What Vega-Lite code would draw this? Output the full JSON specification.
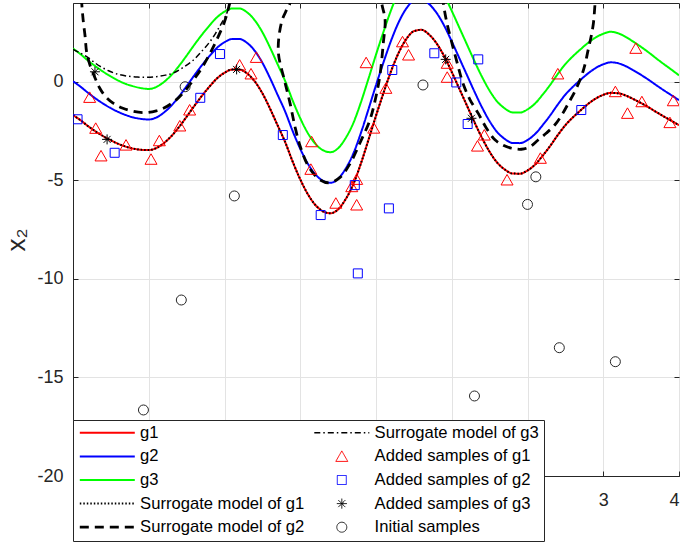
{
"$schema":"https://vega.github.io/schema/vega-lite/v6.json",
"width":606,"height":473,"autosize":"none",
"padding":{"left":73,"top":3,"right":6,"bottom":67},
"background":"white",
"config":{"view":{"stroke":"#262626","strokeWidth":1},"font":"Liberation Sans",
"axis":{"labelFont":"Liberation Sans","labelFontSize":18,"labelColor":"#262626","tickColor":"#262626","domainColor":"#262626","gridColor":"#e3e3e3","gridWidth":1,"tickSize":-5,"domainWidth":1,"tickWidth":1}},
"datasets":{
"curves":[
{"series":"g1","x":-4,"y":-1.69},{"series":"g1","x":-3.9,"y":-1.95},{"series":"g1","x":-3.8,"y":-2.25},{"series":"g1","x":-3.7,"y":-2.52},{"series":"g1","x":-3.6,"y":-2.76},{"series":"g1","x":-3.5,"y":-2.97},{"series":"g1","x":-3.4,"y":-3.15},{"series":"g1","x":-3.3,"y":-3.29},{"series":"g1","x":-3.2,"y":-3.39},{"series":"g1","x":-3.1,"y":-3.45},{"series":"g1","x":-3,"y":-3.46},{"series":"g1","x":-2.9,"y":-3.36},{"series":"g1","x":-2.8,"y":-3.11},{"series":"g1","x":-2.7,"y":-2.75},{"series":"g1","x":-2.6,"y":-2.29},{"series":"g1","x":-2.5,"y":-1.77},{"series":"g1","x":-2.4,"y":-1.23},{"series":"g1","x":-2.3,"y":-0.72},{"series":"g1","x":-2.2,"y":-0.25},{"series":"g1","x":-2.1,"y":0.17},{"series":"g1","x":-2,"y":0.46},{"series":"g1","x":-1.9,"y":0.62},{"series":"g1","x":-1.8,"y":0.62},{"series":"g1","x":-1.7,"y":0.42},{"series":"g1","x":-1.6,"y":0.02},{"series":"g1","x":-1.5,"y":-0.58},{"series":"g1","x":-1.4,"y":-1.35},{"series":"g1","x":-1.3,"y":-2.2},{"series":"g1","x":-1.2,"y":-3.05},{"series":"g1","x":-1.1,"y":-4.05},{"series":"g1","x":-1,"y":-4.95},{"series":"g1","x":-0.9,"y":-5.7},{"series":"g1","x":-0.8,"y":-6.25},{"series":"g1","x":-0.7,"y":-6.57},{"series":"g1","x":-0.6,"y":-6.67},{"series":"g1","x":-0.5,"y":-6.47},{"series":"g1","x":-0.4,"y":-5.95},{"series":"g1","x":-0.3,"y":-5.2},{"series":"g1","x":-0.2,"y":-4.15},{"series":"g1","x":-0.1,"y":-2.95},{"series":"g1","x":0,"y":-1.72},{"series":"g1","x":0.1,"y":-0.55},{"series":"g1","x":0.2,"y":0.55},{"series":"g1","x":0.3,"y":1.48},{"series":"g1","x":0.4,"y":2.17},{"series":"g1","x":0.5,"y":2.57},{"series":"g1","x":0.6,"y":2.64},{"series":"g1","x":0.7,"y":2.4},{"series":"g1","x":0.8,"y":1.95},{"series":"g1","x":0.9,"y":1.3},{"series":"g1","x":1,"y":0.5},{"series":"g1","x":1.1,"y":-0.35},{"series":"g1","x":1.2,"y":-1.2},{"series":"g1","x":1.3,"y":-2.05},{"series":"g1","x":1.4,"y":-2.85},{"series":"g1","x":1.5,"y":-3.55},{"series":"g1","x":1.6,"y":-4.1},{"series":"g1","x":1.7,"y":-4.45},{"series":"g1","x":1.8,"y":-4.65},{"series":"g1","x":1.9,"y":-4.66},{"series":"g1","x":2,"y":-4.5},{"series":"g1","x":2.1,"y":-4.2},{"series":"g1","x":2.2,"y":-3.75},{"series":"g1","x":2.3,"y":-3.25},{"series":"g1","x":2.4,"y":-2.7},{"series":"g1","x":2.5,"y":-2.2},{"series":"g1","x":2.6,"y":-1.8},{"series":"g1","x":2.7,"y":-1.45},{"series":"g1","x":2.8,"y":-1.12},{"series":"g1","x":2.9,"y":-0.85},{"series":"g1","x":3,"y":-0.66},{"series":"g1","x":3.1,"y":-0.56},{"series":"g1","x":3.2,"y":-0.58},{"series":"g1","x":3.3,"y":-0.7},{"series":"g1","x":3.4,"y":-0.88},{"series":"g1","x":3.5,"y":-1.08},{"series":"g1","x":3.6,"y":-1.3},{"series":"g1","x":3.7,"y":-1.53},{"series":"g1","x":3.8,"y":-1.76},{"series":"g1","x":3.9,"y":-1.98},{"series":"g1","x":4,"y":-2.2},
{"series":"g2","x":-4,"y":0.03},{"series":"g2","x":-3.9,"y":-0.25},{"series":"g2","x":-3.8,"y":-0.56},{"series":"g2","x":-3.7,"y":-0.85},{"series":"g2","x":-3.6,"y":-1.11},{"series":"g2","x":-3.5,"y":-1.34},{"series":"g2","x":-3.4,"y":-1.53},{"series":"g2","x":-3.3,"y":-1.69},{"series":"g2","x":-3.2,"y":-1.81},{"series":"g2","x":-3.1,"y":-1.88},{"series":"g2","x":-3,"y":-1.91},{"series":"g2","x":-2.9,"y":-1.81},{"series":"g2","x":-2.8,"y":-1.56},{"series":"g2","x":-2.7,"y":-1.2},{"series":"g2","x":-2.6,"y":-0.74},{"series":"g2","x":-2.5,"y":-0.22},{"series":"g2","x":-2.4,"y":0.32},{"series":"g2","x":-2.3,"y":0.83},{"series":"g2","x":-2.2,"y":1.3},{"series":"g2","x":-2.1,"y":1.72},{"series":"g2","x":-2,"y":2.01},{"series":"g2","x":-1.9,"y":2.17},{"series":"g2","x":-1.8,"y":2.17},{"series":"g2","x":-1.7,"y":1.97},{"series":"g2","x":-1.6,"y":1.57},{"series":"g2","x":-1.5,"y":0.97},{"series":"g2","x":-1.4,"y":0.2},{"series":"g2","x":-1.3,"y":-0.65},{"series":"g2","x":-1.2,"y":-1.5},{"series":"g2","x":-1.1,"y":-2.5},{"series":"g2","x":-1,"y":-3.4},{"series":"g2","x":-0.9,"y":-4.15},{"series":"g2","x":-0.8,"y":-4.7},{"series":"g2","x":-0.7,"y":-5.02},{"series":"g2","x":-0.6,"y":-5.12},{"series":"g2","x":-0.5,"y":-4.92},{"series":"g2","x":-0.4,"y":-4.4},{"series":"g2","x":-0.3,"y":-3.65},{"series":"g2","x":-0.2,"y":-2.6},{"series":"g2","x":-0.1,"y":-1.4},{"series":"g2","x":0,"y":-0.17},{"series":"g2","x":0.1,"y":1},{"series":"g2","x":0.2,"y":2.1},{"series":"g2","x":0.3,"y":3.03},{"series":"g2","x":0.4,"y":3.72},{"series":"g2","x":0.5,"y":4.12},{"series":"g2","x":0.6,"y":4.19},{"series":"g2","x":0.7,"y":3.95},{"series":"g2","x":0.8,"y":3.5},{"series":"g2","x":0.9,"y":2.85},{"series":"g2","x":1,"y":2.05},{"series":"g2","x":1.1,"y":1.2},{"series":"g2","x":1.2,"y":0.35},{"series":"g2","x":1.3,"y":-0.5},{"series":"g2","x":1.4,"y":-1.3},{"series":"g2","x":1.5,"y":-2},{"series":"g2","x":1.6,"y":-2.55},{"series":"g2","x":1.7,"y":-2.9},{"series":"g2","x":1.8,"y":-3.1},{"series":"g2","x":1.9,"y":-3.11},{"series":"g2","x":2,"y":-2.95},{"series":"g2","x":2.1,"y":-2.65},{"series":"g2","x":2.2,"y":-2.2},{"series":"g2","x":2.3,"y":-1.7},{"series":"g2","x":2.4,"y":-1.15},{"series":"g2","x":2.5,"y":-0.65},{"series":"g2","x":2.6,"y":-0.25},{"series":"g2","x":2.7,"y":0.1},{"series":"g2","x":2.8,"y":0.43},{"series":"g2","x":2.9,"y":0.7},{"series":"g2","x":3,"y":0.89},{"series":"g2","x":3.1,"y":0.99},{"series":"g2","x":3.2,"y":0.94},{"series":"g2","x":3.3,"y":0.79},{"series":"g2","x":3.4,"y":0.58},{"series":"g2","x":3.5,"y":0.35},{"series":"g2","x":3.6,"y":0.1},{"series":"g2","x":3.7,"y":-0.17},{"series":"g2","x":3.8,"y":-0.43},{"series":"g2","x":3.9,"y":-0.68},{"series":"g2","x":4,"y":-0.93},
{"series":"g3","x":-4,"y":1.69},{"series":"g3","x":-3.9,"y":1.4},{"series":"g3","x":-3.8,"y":1.07},{"series":"g3","x":-3.7,"y":0.78},{"series":"g3","x":-3.6,"y":0.51},{"series":"g3","x":-3.5,"y":0.27},{"series":"g3","x":-3.4,"y":0.06},{"series":"g3","x":-3.3,"y":-0.11},{"series":"g3","x":-3.2,"y":-0.23},{"series":"g3","x":-3.1,"y":-0.32},{"series":"g3","x":-3,"y":-0.36},{"series":"g3","x":-2.9,"y":-0.26},{"series":"g3","x":-2.8,"y":-0.01},{"series":"g3","x":-2.7,"y":0.35},{"series":"g3","x":-2.6,"y":0.81},{"series":"g3","x":-2.5,"y":1.33},{"series":"g3","x":-2.4,"y":1.87},{"series":"g3","x":-2.3,"y":2.38},{"series":"g3","x":-2.2,"y":2.85},{"series":"g3","x":-2.1,"y":3.27},{"series":"g3","x":-2,"y":3.56},{"series":"g3","x":-1.9,"y":3.72},{"series":"g3","x":-1.8,"y":3.72},{"series":"g3","x":-1.7,"y":3.52},{"series":"g3","x":-1.6,"y":3.12},{"series":"g3","x":-1.5,"y":2.52},{"series":"g3","x":-1.4,"y":1.75},{"series":"g3","x":-1.3,"y":0.9},{"series":"g3","x":-1.2,"y":0.05},{"series":"g3","x":-1.1,"y":-0.95},{"series":"g3","x":-1,"y":-1.85},{"series":"g3","x":-0.9,"y":-2.6},{"series":"g3","x":-0.8,"y":-3.15},{"series":"g3","x":-0.7,"y":-3.47},{"series":"g3","x":-0.6,"y":-3.57},{"series":"g3","x":-0.5,"y":-3.37},{"series":"g3","x":-0.4,"y":-2.85},{"series":"g3","x":-0.3,"y":-2.1},{"series":"g3","x":-0.2,"y":-1.05},{"series":"g3","x":-0.1,"y":0.15},{"series":"g3","x":0,"y":1.38},{"series":"g3","x":0.1,"y":2.55},{"series":"g3","x":0.2,"y":3.65},{"series":"g3","x":0.3,"y":4.58},{"series":"g3","x":0.4,"y":5.27},{"series":"g3","x":0.5,"y":5.67},{"series":"g3","x":0.6,"y":5.74},{"series":"g3","x":0.7,"y":5.5},{"series":"g3","x":0.8,"y":5.05},{"series":"g3","x":0.9,"y":4.4},{"series":"g3","x":1,"y":3.6},{"series":"g3","x":1.1,"y":2.75},{"series":"g3","x":1.2,"y":1.9},{"series":"g3","x":1.3,"y":1.05},{"series":"g3","x":1.4,"y":0.25},{"series":"g3","x":1.5,"y":-0.45},{"series":"g3","x":1.6,"y":-1},{"series":"g3","x":1.7,"y":-1.35},{"series":"g3","x":1.8,"y":-1.55},{"series":"g3","x":1.9,"y":-1.56},{"series":"g3","x":2,"y":-1.4},{"series":"g3","x":2.1,"y":-1.1},{"series":"g3","x":2.2,"y":-0.65},{"series":"g3","x":2.3,"y":-0.15},{"series":"g3","x":2.4,"y":0.4},{"series":"g3","x":2.5,"y":0.9},{"series":"g3","x":2.6,"y":1.3},{"series":"g3","x":2.7,"y":1.65},{"series":"g3","x":2.8,"y":1.98},{"series":"g3","x":2.9,"y":2.25},{"series":"g3","x":3,"y":2.44},{"series":"g3","x":3.1,"y":2.54},{"series":"g3","x":3.2,"y":2.46},{"series":"g3","x":3.3,"y":2.27},{"series":"g3","x":3.4,"y":2.03},{"series":"g3","x":3.5,"y":1.77},{"series":"g3","x":3.6,"y":1.49},{"series":"g3","x":3.7,"y":1.19},{"series":"g3","x":3.8,"y":0.9},{"series":"g3","x":3.9,"y":0.62},{"series":"g3","x":4,"y":0.33}],
"sur1":[
{"series":"Surrogate model of g1","x":-4,"y":-1.69},{"series":"Surrogate model of g1","x":-3.9,"y":-1.95},{"series":"Surrogate model of g1","x":-3.8,"y":-2.25},{"series":"Surrogate model of g1","x":-3.7,"y":-2.52},{"series":"Surrogate model of g1","x":-3.6,"y":-2.76},{"series":"Surrogate model of g1","x":-3.5,"y":-2.97},{"series":"Surrogate model of g1","x":-3.4,"y":-3.15},{"series":"Surrogate model of g1","x":-3.3,"y":-3.29},{"series":"Surrogate model of g1","x":-3.2,"y":-3.39},{"series":"Surrogate model of g1","x":-3.1,"y":-3.45},{"series":"Surrogate model of g1","x":-3,"y":-3.46},{"series":"Surrogate model of g1","x":-2.9,"y":-3.36},{"series":"Surrogate model of g1","x":-2.8,"y":-3.11},{"series":"Surrogate model of g1","x":-2.7,"y":-2.75},{"series":"Surrogate model of g1","x":-2.6,"y":-2.29},{"series":"Surrogate model of g1","x":-2.5,"y":-1.77},{"series":"Surrogate model of g1","x":-2.4,"y":-1.23},{"series":"Surrogate model of g1","x":-2.3,"y":-0.72},{"series":"Surrogate model of g1","x":-2.2,"y":-0.25},{"series":"Surrogate model of g1","x":-2.1,"y":0.17},{"series":"Surrogate model of g1","x":-2,"y":0.46},{"series":"Surrogate model of g1","x":-1.9,"y":0.62},{"series":"Surrogate model of g1","x":-1.8,"y":0.62},{"series":"Surrogate model of g1","x":-1.7,"y":0.42},{"series":"Surrogate model of g1","x":-1.6,"y":0.02},{"series":"Surrogate model of g1","x":-1.5,"y":-0.58},{"series":"Surrogate model of g1","x":-1.4,"y":-1.35},{"series":"Surrogate model of g1","x":-1.3,"y":-2.2},{"series":"Surrogate model of g1","x":-1.2,"y":-3.05},{"series":"Surrogate model of g1","x":-1.1,"y":-4.05},{"series":"Surrogate model of g1","x":-1,"y":-4.95},{"series":"Surrogate model of g1","x":-0.9,"y":-5.7},{"series":"Surrogate model of g1","x":-0.8,"y":-6.25},{"series":"Surrogate model of g1","x":-0.7,"y":-6.57},{"series":"Surrogate model of g1","x":-0.6,"y":-6.67},{"series":"Surrogate model of g1","x":-0.5,"y":-6.47},{"series":"Surrogate model of g1","x":-0.4,"y":-5.95},{"series":"Surrogate model of g1","x":-0.3,"y":-5.2},{"series":"Surrogate model of g1","x":-0.2,"y":-4.15},{"series":"Surrogate model of g1","x":-0.1,"y":-2.95},{"series":"Surrogate model of g1","x":0,"y":-1.72},{"series":"Surrogate model of g1","x":0.1,"y":-0.55},{"series":"Surrogate model of g1","x":0.2,"y":0.55},{"series":"Surrogate model of g1","x":0.3,"y":1.48},{"series":"Surrogate model of g1","x":0.4,"y":2.17},{"series":"Surrogate model of g1","x":0.5,"y":2.57},{"series":"Surrogate model of g1","x":0.6,"y":2.64},{"series":"Surrogate model of g1","x":0.7,"y":2.4},{"series":"Surrogate model of g1","x":0.8,"y":1.95},{"series":"Surrogate model of g1","x":0.9,"y":1.3},{"series":"Surrogate model of g1","x":1,"y":0.5},{"series":"Surrogate model of g1","x":1.1,"y":-0.35},{"series":"Surrogate model of g1","x":1.2,"y":-1.2},{"series":"Surrogate model of g1","x":1.3,"y":-2.05},{"series":"Surrogate model of g1","x":1.4,"y":-2.85},{"series":"Surrogate model of g1","x":1.5,"y":-3.55},{"series":"Surrogate model of g1","x":1.6,"y":-4.1},{"series":"Surrogate model of g1","x":1.7,"y":-4.45},{"series":"Surrogate model of g1","x":1.8,"y":-4.65},{"series":"Surrogate model of g1","x":1.9,"y":-4.66},{"series":"Surrogate model of g1","x":2,"y":-4.5},{"series":"Surrogate model of g1","x":2.1,"y":-4.2},{"series":"Surrogate model of g1","x":2.2,"y":-3.75},{"series":"Surrogate model of g1","x":2.3,"y":-3.25},{"series":"Surrogate model of g1","x":2.4,"y":-2.7},{"series":"Surrogate model of g1","x":2.5,"y":-2.2},{"series":"Surrogate model of g1","x":2.6,"y":-1.8},{"series":"Surrogate model of g1","x":2.7,"y":-1.45},{"series":"Surrogate model of g1","x":2.8,"y":-1.12},{"series":"Surrogate model of g1","x":2.9,"y":-0.85},{"series":"Surrogate model of g1","x":3,"y":-0.66},{"series":"Surrogate model of g1","x":3.1,"y":-0.56},{"series":"Surrogate model of g1","x":3.2,"y":-0.58},{"series":"Surrogate model of g1","x":3.3,"y":-0.7},{"series":"Surrogate model of g1","x":3.4,"y":-0.88},{"series":"Surrogate model of g1","x":3.5,"y":-1.08},{"series":"Surrogate model of g1","x":3.6,"y":-1.3},{"series":"Surrogate model of g1","x":3.7,"y":-1.53},{"series":"Surrogate model of g1","x":3.8,"y":-1.76},{"series":"Surrogate model of g1","x":3.9,"y":-1.98},{"series":"Surrogate model of g1","x":4,"y":-2.2}],
"sur2":[
{"series":"Surrogate model of g2","i":1,"x":-3.9,"y":5},{"series":"Surrogate model of g2","i":2,"x":-3.885,"y":4},{"series":"Surrogate model of g2","i":3,"x":-3.865,"y":3.1},{"series":"Surrogate model of g2","i":4,"x":-3.84,"y":2.3},{"series":"Surrogate model of g2","i":5,"x":-3.82,"y":1.5},{"series":"Surrogate model of g2","i":6,"x":-3.78,"y":0.9},{"series":"Surrogate model of g2","i":7,"x":-3.72,"y":0.3},{"series":"Surrogate model of g2","i":8,"x":-3.65,"y":-0.3},{"series":"Surrogate model of g2","i":9,"x":-3.57,"y":-0.75},{"series":"Surrogate model of g2","i":10,"x":-3.47,"y":-1.08},{"series":"Surrogate model of g2","i":11,"x":-3.35,"y":-1.33},{"series":"Surrogate model of g2","i":12,"x":-3.2,"y":-1.5},{"series":"Surrogate model of g2","i":13,"x":-3.05,"y":-1.56},{"series":"Surrogate model of g2","i":14,"x":-2.9,"y":-1.47},{"series":"Surrogate model of g2","i":15,"x":-2.8,"y":-1.33},{"series":"Surrogate model of g2","i":16,"x":-2.7,"y":-1.1},{"series":"Surrogate model of g2","i":17,"x":-2.6,"y":-0.78},{"series":"Surrogate model of g2","i":18,"x":-2.5,"y":-0.35},{"series":"Surrogate model of g2","i":19,"x":-2.4,"y":0.15},{"series":"Surrogate model of g2","i":20,"x":-2.3,"y":0.7},{"series":"Surrogate model of g2","i":21,"x":-2.2,"y":1.38},{"series":"Surrogate model of g2","i":22,"x":-2.1,"y":2.15},{"series":"Surrogate model of g2","i":23,"x":-2,"y":3.05},{"series":"Surrogate model of g2","i":24,"x":-1.95,"y":3.7},{"series":"Surrogate model of g2","i":25,"x":-1.91,"y":4.4},{"series":"Surrogate model of g2","i":26,"x":-1.85,"y":6},{"series":"Surrogate model of g2","i":27,"x":-1.5,"y":8},{"series":"Surrogate model of g2","i":28,"x":-1.11,"y":6},{"series":"Surrogate model of g2","i":29,"x":-1.135,"y":4},{"series":"Surrogate model of g2","i":30,"x":-1.18,"y":3.65},{"series":"Surrogate model of g2","i":31,"x":-1.245,"y":3.06},{"series":"Surrogate model of g2","i":32,"x":-1.29,"y":1.54},{"series":"Surrogate model of g2","i":33,"x":-1.21,"y":0.1},{"series":"Surrogate model of g2","i":34,"x":-1.135,"y":-1.08},{"series":"Surrogate model of g2","i":35,"x":-1.07,"y":-2.27},{"series":"Surrogate model of g2","i":36,"x":-1,"y":-3.28},{"series":"Surrogate model of g2","i":37,"x":-0.89,"y":-4.3},{"series":"Surrogate model of g2","i":38,"x":-0.74,"y":-4.97},{"series":"Surrogate model of g2","i":39,"x":-0.61,"y":-5.12},{"series":"Surrogate model of g2","i":40,"x":-0.475,"y":-4.85},{"series":"Surrogate model of g2","i":41,"x":-0.35,"y":-4.2},{"series":"Surrogate model of g2","i":42,"x":-0.2,"y":-3},{"series":"Surrogate model of g2","i":43,"x":-0.08,"y":-1.93},{"series":"Surrogate model of g2","i":44,"x":-0.01,"y":-0.91},{"series":"Surrogate model of g2","i":45,"x":0.05,"y":0.27},{"series":"Surrogate model of g2","i":46,"x":0.096,"y":1.96},{"series":"Surrogate model of g2","i":47,"x":0.12,"y":3.14},{"series":"Surrogate model of g2","i":48,"x":0.075,"y":4},{"series":"Surrogate model of g2","i":49,"x":0.05,"y":5},{"series":"Surrogate model of g2","i":50,"x":0.5,"y":8},{"series":"Surrogate model of g2","i":51,"x":0.87,"y":5},{"series":"Surrogate model of g2","i":52,"x":0.89,"y":4},{"series":"Surrogate model of g2","i":53,"x":0.93,"y":3.1},{"series":"Surrogate model of g2","i":54,"x":1,"y":2},{"series":"Surrogate model of g2","i":55,"x":1.09,"y":0.7},{"series":"Surrogate model of g2","i":56,"x":1.15,"y":-0.1},{"series":"Surrogate model of g2","i":57,"x":1.24,"y":-0.9},{"series":"Surrogate model of g2","i":58,"x":1.35,"y":-1.6},{"series":"Surrogate model of g2","i":59,"x":1.45,"y":-2.3},{"series":"Surrogate model of g2","i":60,"x":1.57,"y":-2.94},{"series":"Surrogate model of g2","i":61,"x":1.68,"y":-3.22},{"series":"Surrogate model of g2","i":62,"x":1.79,"y":-3.37},{"series":"Surrogate model of g2","i":63,"x":1.92,"y":-3.42},{"series":"Surrogate model of g2","i":64,"x":2.03,"y":-3.3},{"series":"Surrogate model of g2","i":65,"x":2.14,"y":-2.95},{"series":"Surrogate model of g2","i":66,"x":2.25,"y":-2.6},{"series":"Surrogate model of g2","i":67,"x":2.36,"y":-2.19},{"series":"Surrogate model of g2","i":68,"x":2.45,"y":-1.7},{"series":"Surrogate model of g2","i":69,"x":2.54,"y":-1.09},{"series":"Surrogate model of g2","i":70,"x":2.63,"y":-0.45},{"series":"Surrogate model of g2","i":71,"x":2.71,"y":0.26},{"series":"Surrogate model of g2","i":72,"x":2.76,"y":0.9},{"series":"Surrogate model of g2","i":73,"x":2.8,"y":1.61},{"series":"Surrogate model of g2","i":74,"x":2.84,"y":2.3},{"series":"Surrogate model of g2","i":75,"x":2.87,"y":2.97},{"series":"Surrogate model of g2","i":76,"x":2.89,"y":3.9},{"series":"Surrogate model of g2","i":77,"x":2.92,"y":5.5}],
"sur3":[
{"series":"Surrogate model of g3","i":1,"x":-4,"y":1.65},{"series":"Surrogate model of g3","i":2,"x":-3.9,"y":1.45},{"series":"Surrogate model of g3","i":3,"x":-3.82,"y":1.28},{"series":"Surrogate model of g3","i":4,"x":-3.73,"y":1.02},{"series":"Surrogate model of g3","i":5,"x":-3.64,"y":0.78},{"series":"Surrogate model of g3","i":6,"x":-3.53,"y":0.56},{"series":"Surrogate model of g3","i":7,"x":-3.42,"y":0.4},{"series":"Surrogate model of g3","i":8,"x":-3.3,"y":0.3},{"series":"Surrogate model of g3","i":9,"x":-3.15,"y":0.24},{"series":"Surrogate model of g3","i":10,"x":-3.03,"y":0.23},{"series":"Surrogate model of g3","i":11,"x":-2.9,"y":0.26},{"series":"Surrogate model of g3","i":12,"x":-2.78,"y":0.34},{"series":"Surrogate model of g3","i":13,"x":-2.68,"y":0.44},{"series":"Surrogate model of g3","i":14,"x":-2.55,"y":0.72},{"series":"Surrogate model of g3","i":15,"x":-2.41,"y":1.11},{"series":"Surrogate model of g3","i":16,"x":-2.3,"y":1.55},{"series":"Surrogate model of g3","i":17,"x":-2.2,"y":2},{"series":"Surrogate model of g3","i":18,"x":-2.12,"y":2.45},{"series":"Surrogate model of g3","i":19,"x":-2.05,"y":2.9},{"series":"Surrogate model of g3","i":20,"x":-1.97,"y":3.48},{"series":"Surrogate model of g3","i":21,"x":-1.93,"y":4},{"series":"Surrogate model of g3","i":22,"x":-1.9,"y":4.6}],
"pts":[
{"series":"Added samples of g1","x":-3.78,"y":-0.79},{"series":"Added samples of g1","x":-3.7,"y":-2.36},{"series":"Added samples of g1","x":-3.63,"y":-3.76},{"series":"Added samples of g1","x":-3.3,"y":-3.21},{"series":"Added samples of g1","x":-2.97,"y":-3.93},{"series":"Added samples of g1","x":-2.86,"y":-2.99},{"series":"Added samples of g1","x":-2.59,"y":-2.24},{"series":"Added samples of g1","x":-2.46,"y":-1.43},{"series":"Added samples of g1","x":-1.8,"y":0.85},{"series":"Added samples of g1","x":-1.58,"y":1.24},{"series":"Added samples of g1","x":-1.65,"y":0.4},{"series":"Added samples of g1","x":-0.85,"y":-3.04},{"series":"Added samples of g1","x":-0.86,"y":-4.44},{"series":"Added samples of g1","x":-0.255,"y":-4.95},{"series":"Added samples of g1","x":-0.32,"y":-5.32},{"series":"Added samples of g1","x":-0.53,"y":-6.16},{"series":"Added samples of g1","x":-0.255,"y":-6.25},{"series":"Added samples of g1","x":-0.03,"y":-2.35},{"series":"Added samples of g1","x":-0.13,"y":0.97},{"series":"Added samples of g1","x":0.35,"y":2.03},{"series":"Added samples of g1","x":0.43,"y":1.36},{"series":"Added samples of g1","x":0.13,"y":-0.33},{"series":"Added samples of g1","x":0.94,"y":0.94},{"series":"Added samples of g1","x":0.94,"y":0.23},{"series":"Added samples of g1","x":1.43,"y":-2.7},{"series":"Added samples of g1","x":1.34,"y":-3.26},{"series":"Added samples of g1","x":1.73,"y":-4.98},{"series":"Added samples of g1","x":2.17,"y":-3.88},{"series":"Added samples of g1","x":2.4,"y":0.4},{"series":"Added samples of g1","x":3.16,"y":-0.5},{"series":"Added samples of g1","x":3.32,"y":-1.6},{"series":"Added samples of g1","x":3.51,"y":-1.01},{"series":"Added samples of g1","x":3.43,"y":1.7},{"series":"Added samples of g1","x":3.925,"y":-0.96},{"series":"Added samples of g1","x":3.88,"y":-2.07},
{"series":"Added samples of g2","x":-3.94,"y":-1.9},{"series":"Added samples of g2","x":-3.45,"y":-3.6},{"series":"Added samples of g2","x":-2.32,"y":-0.81},{"series":"Added samples of g2","x":-2.06,"y":1.41},{"series":"Added samples of g2","x":-1.23,"y":-2.7},{"series":"Added samples of g2","x":-0.73,"y":-6.76},{"series":"Added samples of g2","x":-0.28,"y":-5.24},{"series":"Added samples of g2","x":-0.24,"y":-9.72},{"series":"Added samples of g2","x":0.17,"y":-6.42},{"series":"Added samples of g2","x":0.215,"y":0.6},{"series":"Added samples of g2","x":0.77,"y":1.45},{"series":"Added samples of g2","x":1.06,"y":-0.03},{"series":"Added samples of g2","x":1.21,"y":-2.14},{"series":"Added samples of g2","x":1.35,"y":1.14},{"series":"Added samples of g2","x":2.71,"y":-1.43},
{"series":"Added samples of g3","x":-3.71,"y":0.51},{"series":"Added samples of g3","x":-3.55,"y":-2.92},{"series":"Added samples of g3","x":-1.84,"y":0.63},{"series":"Added samples of g3","x":0.92,"y":1.14},{"series":"Added samples of g3","x":1.26,"y":-1.85},
{"series":"Initial samples","x":-2.52,"y":-0.25},{"series":"Initial samples","x":-1.87,"y":-5.79},{"series":"Initial samples","x":-2.57,"y":-11.07},{"series":"Initial samples","x":-3.07,"y":-16.65},{"series":"Initial samples","x":0.62,"y":-0.16},{"series":"Initial samples","x":1.3,"y":-15.94},{"series":"Initial samples","x":2,"y":-6.22},{"series":"Initial samples","x":2.11,"y":-4.82},{"series":"Initial samples","x":2.42,"y":-13.49},{"series":"Initial samples","x":3.16,"y":-14.2}]
},
"resolve":{"axis":{"x":"independent","y":"independent"}},
"layer":[
{"data":{"name":"curves"},
 "mark":{"type":"line","clip":true,"interpolate":"monotone","strokeWidth":2},
 "encoding":{
  "x":{"field":"x","type":"quantitative","scale":{"domain":[-4,4],"nice":false,"zero":false},
       "axis":{"orient":"bottom","values":[-4,-3,-2,-1,0,1,2,3,4],"labelExpr":"(datum.value >= 3 || datum.value == -4) ? '' + datum.value : ''","title":null,"grid":true,"labelPadding":20.5}},
  "y":{"field":"y","type":"quantitative","scale":{"domain":[-20,4],"nice":false,"zero":false},
       "axis":{"orient":"left","values":[-20,-15,-10,-5,0],"labelExpr":"'' + datum.value","title":"x₂","titleFont":"Liberation Sans","titleFontSize":26,"titleFontWeight":"normal","titleColor":"#262626","titlePadding":7,"grid":true,"labelPadding":15}},
  "color":{"field":"series","type":"nominal",
    "scale":{"domain":["g1","g2","g3","Surrogate model of g1","Surrogate model of g2","Surrogate model of g3","Added samples of g1","Added samples of g2","Added samples of g3","Initial samples"],
             "range":["#ff0000","#0000ff","#00ff00","#000000","#000000","#000000","#ff0000","#0000ff","#000000","#262626"]},
    "legend":{"orient":"none","legendX":0,"legendY":417,"columns":2,"title":null,"fillColor":"#ffffff","strokeColor":"#262626","padding":4.5,"rowPadding":6.6,"columnPadding":6.5,"symbolOffset":21.5,"labelOffset":24.5,"labelFontSize":16.6,"labelFont":"Liberation Sans","labelColor":"#000000","symbolSize":100,"symbolOpacity":1,"labelLimit":400,"symbolFillColor":"transparent",
      "encode":{"symbols":{"update":{"strokeWidth":{"signal":"datum.value === 'Surrogate model of g2' ? 2.8 : (datum.value === 'Surrogate model of g3' ? 1.5 : (indexof(['Added samples of g1','Added samples of g2','Added samples of g3','Initial samples'], datum.value) >= 0 ? 1 : 2))"},"fill":{"value":"transparent"}}}}}},
  "strokeDash":{"field":"series","type":"nominal",
    "scale":{"domain":["g1","g2","g3","Surrogate model of g1","Surrogate model of g2","Surrogate model of g3","Added samples of g1","Added samples of g2","Added samples of g3","Initial samples"],
             "range":[[1,0],[1,0],[1,0],[1.5,2],[9,6],[6,3,1.5,3],[1,0],[1,0],[1,0],[1,0]]}}
 }},
{"data":{"name":"sur1"},
 "mark":{"type":"line","clip":true,"interpolate":"monotone","strokeWidth":2},
 "encoding":{
  "x":{"field":"x","type":"quantitative","axis":null},
  "y":{"field":"y","type":"quantitative","axis":null},
  "color":{"field":"series","type":"nominal"},
  "strokeDash":{"field":"series","type":"nominal"}}},
{"data":{"name":"sur2"},
 "mark":{"type":"line","clip":true,"interpolate":"catmull-rom","strokeWidth":2.8},
 "encoding":{
  "x":{"field":"x","type":"quantitative","axis":null},
  "y":{"field":"y","type":"quantitative","axis":null},
  "order":{"field":"i","type":"quantitative"},
  "color":{"field":"series","type":"nominal"},
  "strokeDash":{"field":"series","type":"nominal"}}},
{"data":{"name":"sur3"},
 "mark":{"type":"line","clip":true,"interpolate":"catmull-rom","strokeWidth":1.5},
 "encoding":{
  "x":{"field":"x","type":"quantitative","axis":null},
  "y":{"field":"y","type":"quantitative","axis":null},
  "order":{"field":"i","type":"quantitative"},
  "color":{"field":"series","type":"nominal"},
  "strokeDash":{"field":"series","type":"nominal"}}},
{"data":{"name":"pts"},
 "mark":{"type":"point","filled":false,"size":100,"opacity":1,"strokeWidth":1,"clip":true},
 "encoding":{
  "x":{"field":"x","type":"quantitative","axis":{"orient":"top","labels":false,"grid":false,"domain":false,"title":null,"values":[-4,-3,-2,-1,0,1,2,3,4]}},
  "y":{"field":"y","type":"quantitative","axis":{"orient":"right","labels":false,"grid":false,"domain":false,"title":null,"values":[-20,-15,-10,-5,0]}},
  "color":{"field":"series","type":"nominal"},
  "shape":{"field":"series","type":"nominal",
    "scale":{"domain":["g1","g2","g3","Surrogate model of g1","Surrogate model of g2","Surrogate model of g3","Added samples of g1","Added samples of g2","Added samples of g3","Initial samples"],
             "range":["M-5.5,0H5.5","M-5.5,0H5.5","M-5.5,0H5.5","M-5.5,0H5.5","M-5.5,0H5.5","M-5.5,0H5.5","M0,-1.1L1.2,1L-1.2,1Z","M-0.9,-0.9H0.9V0.9H-0.9Z","M-1,0H1M0,-1V1M-0.7,-0.7L0.7,0.7M-0.7,0.7L0.7,-0.7","M1,0A1,1,0,1,1,-1,0A1,1,0,1,1,1,0Z"]}}}}
]
}
